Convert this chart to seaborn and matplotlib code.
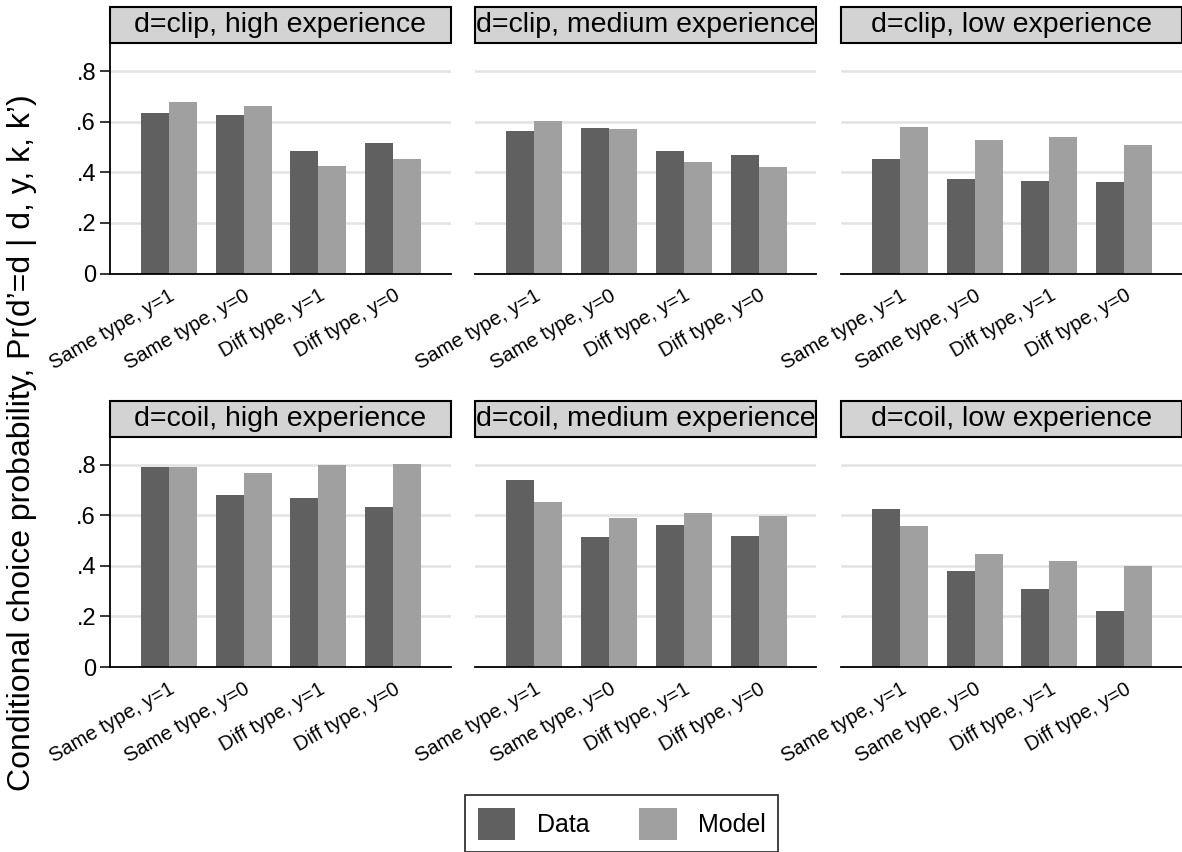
import pandas as pd
import numpy as np
import seaborn as sns
from matplotlib import pyplot as plt
from matplotlib.patches import Patch, Rectangle

# Categories and series
categories = ['Same type, y=1', 'Same type, y=0', 'Diff type, y=1', 'Diff type, y=0']
series = ['Data', 'Model']
devices = ['clip', 'coil']
experience = ['high', 'medium', 'low']

# Values (per panel: 4 categories)
clip_high_data = [0.636, 0.628, 0.486, 0.517]
clip_high_model = [0.679, 0.663, 0.426, 0.454]
clip_med_data = [0.565, 0.576, 0.483, 0.470]
clip_med_model = [0.604, 0.572, 0.442, 0.422]
clip_low_data = [0.454, 0.375, 0.368, 0.363]
clip_low_model = [0.580, 0.529, 0.541, 0.509]
coil_high_data = [0.792, 0.681, 0.670, 0.634]
coil_high_model = [0.792, 0.768, 0.800, 0.804]
coil_med_data = [0.741, 0.515, 0.563, 0.519]
coil_med_model = [0.654, 0.590, 0.610, 0.598]
coil_low_data = [0.626, 0.381, 0.310, 0.223]
coil_low_model = [0.559, 0.448, 0.420, 0.401]

panel_values = {
    ('clip', 'high'): (clip_high_data, clip_high_model),
    ('clip', 'medium'): (clip_med_data, clip_med_model),
    ('clip', 'low'): (clip_low_data, clip_low_model),
    ('coil', 'high'): (coil_high_data, coil_high_model),
    ('coil', 'medium'): (coil_med_data, coil_med_model),
    ('coil', 'low'): (coil_low_data, coil_low_model),
}

rows = []
for (d, e), (dat, mod) in panel_values.items():
    for c, v in zip(categories, dat):
        rows.append([d, e, c, 'Data', v])
    for c, v in zip(categories, mod):
        rows.append([d, e, c, 'Model', v])
df = pd.DataFrame(rows, columns=['d', 'exp', 'cat', 'series', 'p'])

colors = {'Data': '#606060', 'Model': '#a0a0a0'}

sns.set_style('white')
plt.rcParams['font.family'] = ['Liberation Sans', 'DejaVu Sans']
plt.rcParams['text.color'] = 'black'
plt.rcParams['xtick.color'] = 'black'
plt.rcParams['ytick.color'] = 'black'
plt.rcParams['axes.labelcolor'] = 'black'

fig, axes = plt.subplots(2, 3, figsize=(11.82, 8.52), dpi=100)
fig.subplots_adjust(left=0.093, right=1.0, top=0.9495, bottom=0.2171,
                    wspace=0.072, hspace=0.707)

for i, d in enumerate(devices):
    for j, e in enumerate(experience):
        ax = axes[i, j]
        sub = df[(df['d'] == d) & (df['exp'] == e)]
        sns.barplot(data=sub, x='cat', y='p', hue='series', order=categories,
                    hue_order=series, palette=colors, saturation=1, width=0.75,
                    linewidth=0, errorbar=None, legend=False, ax=ax)
        ax.set_xlim(-0.787, 3.773)
        ax.set_ylim(0, 0.912)
        ax.set_yticks([0, 0.2, 0.4, 0.6, 0.8])
        ax.yaxis.grid(True, color='#e3e3e3', linewidth=1.8)
        ax.set_axisbelow(True)
        ax.set_xlabel('')
        ax.set_ylabel('')
        for s in ['top', 'right']:
            ax.spines[s].set_visible(False)
        ax.spines['bottom'].set_color('black')
        ax.spines['bottom'].set_linewidth(1.3)
        ax.tick_params(axis='x', length=0, pad=9, labelcolor='black')
        ax.set_xticks(range(len(categories)))
        ax.set_xticklabels(categories, rotation=30, ha='right',
                           rotation_mode='anchor', fontsize=14.5)
        if j == 0:
            ax.spines['left'].set_color('black')
            ax.spines['left'].set_linewidth(1.3)
            ax.set_yticklabels(['0', '.2', '.4', '.6', '.8'], fontsize=17)
            ax.tick_params(axis='y', left=True, length=7, width=1.1, pad=3,
                           labelcolor='black')
        else:
            ax.spines['left'].set_visible(False)
            ax.tick_params(axis='y', left=False, labelleft=False)
        # strip header
        h = 36 / 231
        ax.add_patch(Rectangle((0, 1), 1, h, transform=ax.transAxes,
                               facecolor='#d3d3d3', edgecolor='black',
                               linewidth=1.5, clip_on=False))
        ax.text(0.5, 1 + h / 2, f'd={d}, {e} experience', transform=ax.transAxes,
                ha='center', va='center', fontsize=20.5, color='black')

fig.text(0.019, 0.481, "Conditional choice probability, Pr(d\u2019=d | d, y, k, k\u2019)",
         rotation=90, ha='center', va='center', fontsize=23, color='black')

handles = [Patch(facecolor=colors[s], edgecolor='none') for s in series]
leg = fig.legend(handles, series, loc='upper center', bbox_to_anchor=(0.526, 0.0669),
                 ncol=2, fontsize=18, frameon=True, fancybox=False,
                 handlelength=1.5, handleheight=1.6, handletextpad=0.85,
                 columnspacing=2.0, borderpad=0.5, borderaxespad=0)
leg.get_frame().set_edgecolor('black')
leg.get_frame().set_linewidth(1.3)
for t in leg.get_texts():
    t.set_color('black')

plt.savefig('out.png', dpi=100)
